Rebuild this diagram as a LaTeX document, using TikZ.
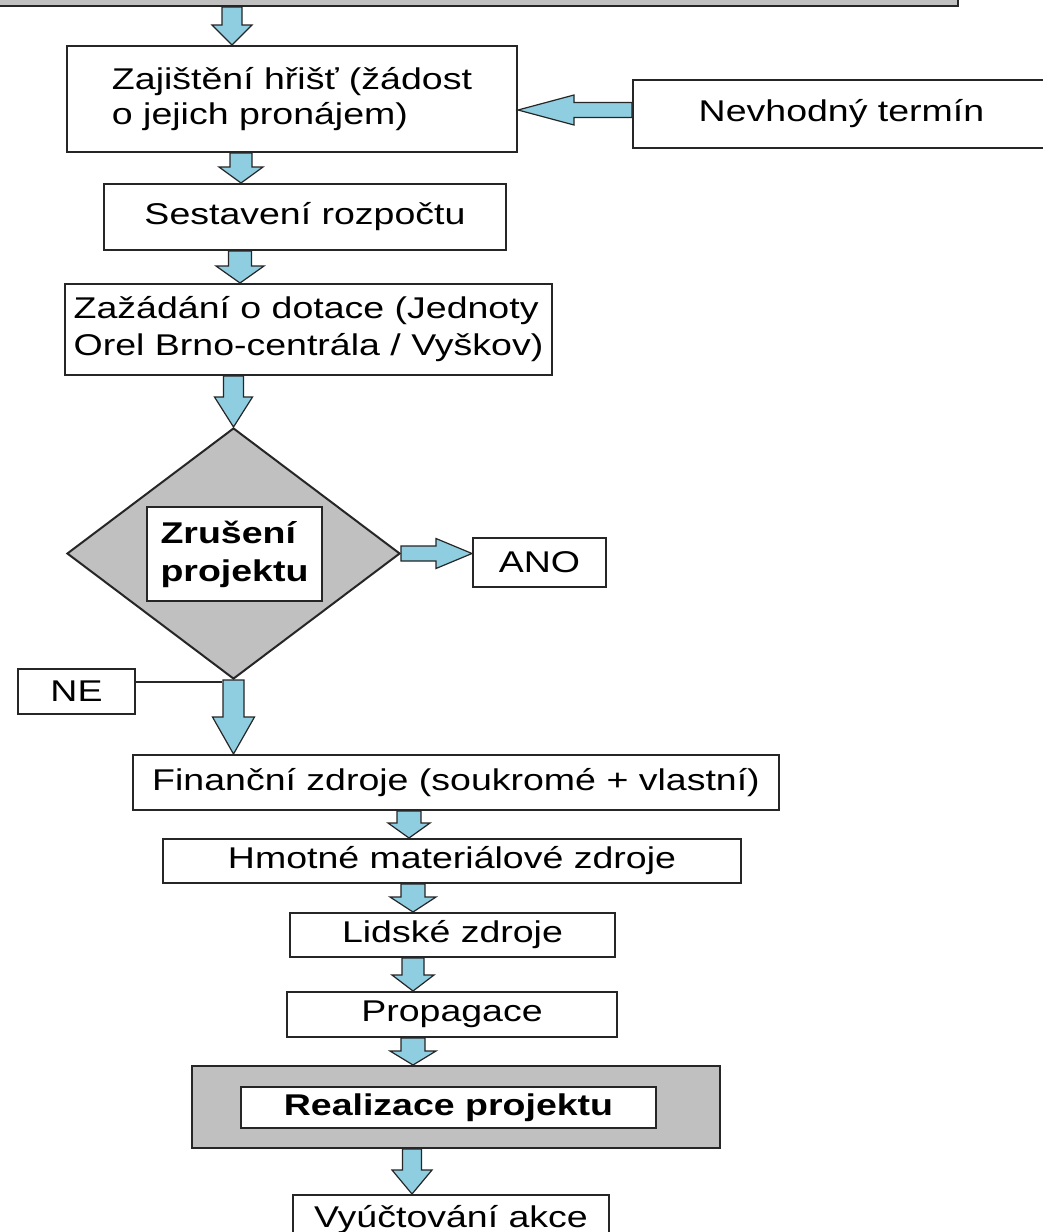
\documentclass[tikz,border=0pt]{standalone}
\usepackage{fontspec}
\setmainfont{Liberation Sans}[FakeStretch=1.25]
\usetikzlibrary{shapes.geometric,calc}
\definecolor{boxgray}{HTML}{C0C0C0}
\definecolor{arrowblue}{HTML}{8FCDE0}
\definecolor{edgecol}{HTML}{262626}
\tikzset{
  box/.style={draw=edgecol, line width=2pt, fill=white, inner sep=0pt, font=\fontsize{30}{36}\selectfont},
  graybox/.style={box, fill=boxgray},
  fatarrow/.style={draw=edgecol, line width=1.2pt, fill=arrowblue, line join=miter},
  thinline/.style={draw=edgecol, line width=1.5pt},
}
% #1 start, #2 end (tip), #3 half shaft, #4 half head, #5 head length
\newcommand\blockdown[5]{\draw[fatarrow] let \p1=(#1), \p2=(#2) in
  (\x1-#3,\y1) -- (\x1+#3,\y1) -- (\x1+#3,\y2+#5) -- (\x1+#4,\y2+#5) -- (\x1,\y2)
  -- (\x1-#4,\y2+#5) -- (\x1-#3,\y2+#5) -- cycle;}
\newcommand\blockleft[5]{\draw[fatarrow] let \p1=(#1), \p2=(#2) in
  (\x1,\y1-#3) -- (\x2+#5,\y1-#3) -- (\x2+#5,\y1-#4) -- (\x2,\y1) -- (\x2+#5,\y1+#4)
  -- (\x2+#5,\y1+#3) -- (\x1,\y1+#3) -- cycle;}
\newcommand\blockright[5]{\draw[fatarrow] let \p1=(#1), \p2=(#2) in
  (\x1,\y1-#3) -- (\x2-#5,\y1-#3) -- (\x2-#5,\y1-#4) -- (\x2,\y1) -- (\x2-#5,\y1+#4)
  -- (\x2-#5,\y1+#3) -- (\x1,\y1+#3) -- cycle;}
\begin{document}
\begin{tikzpicture}[x=1pt,y=-1pt]
\useasboundingbox (0,0) rectangle (1042,1232);
\fill[white] (0,0) rectangle (1042,1232);

% boxes
\node[graybox, minimum width=968pt, minimum height=56pt] (top) at (474,-22) {};
\node[box, minimum width=450pt, minimum height=106pt, align=left, font=\fontsize{30}{35}\selectfont] (b2) at (292,99)
  {Zajištění hřišť (žádost\\o jejich pronájem)};
\node[box, minimum width=417pt, minimum height=68pt] (nev) at (841.5,114) {Nevhodný termín};
\node[box, minimum width=402pt, minimum height=66pt] (b3) at (305,217) {Sestavení rozpočtu};
\node[box, minimum width=487pt, minimum height=91pt, align=left, font=\fontsize{30}{37}\selectfont] (b4) at (308.5,329.5)
  {Zažádání o dotace (Jednoty\\Orel Brno-centrála / Vyškov)};
\node[draw=edgecol, line width=2pt, fill=boxgray, diamond, minimum width=333pt, minimum height=251pt, inner sep=0pt] (dia) at (233.5,553.5) {};
\node[box, minimum width=175pt, minimum height=94pt, align=left, font=\bfseries\fontsize{30}{38}\selectfont] (zr) at (234.5,554)
  {Zrušení\\projektu};
\node[box, minimum width=133pt, minimum height=49pt] (ano) at (539.5,562.5) {ANO};
\node[box, minimum width=117pt, minimum height=45pt] (ne) at (76.5,691.5) {NE};
\node[box, minimum width=646pt, minimum height=55pt] (fin) at (456,782.5) {Finanční zdroje (soukromé + vlastní)};
\node[box, minimum width=578pt, minimum height=44pt] (hmo) at (452,861) {Hmotné materiálové zdroje};
\node[box, minimum width=325pt, minimum height=44pt] (lid) at (452.5,935) {Lidské zdroje};
\node[box, minimum width=330pt, minimum height=45pt] (pro) at (452,1014.5) {Propagace};
\node[graybox, minimum width=528pt, minimum height=82pt] (realg) at (456,1107) {};
\node[box, minimum width=415pt, minimum height=41pt, font=\bfseries\fontsize{30}{36}\selectfont] (reali) at (448.5,1107.5) {Realizace projektu};
\node[box, minimum width=316pt, minimum height=50pt] (vyu) at (451,1220) {Vyúčtování akce};

% arrow x / y positions
\coordinate (xa1) at (232,0);
\coordinate (xa2) at (241,0);
\coordinate (xa3) at (240,0);
\coordinate (xa6) at (409,0);
\coordinate (xa7) at (413,0);
\coordinate (xa8) at (413,0);
\coordinate (xa9) at (413,0);
\coordinate (xa10) at (412,0);
\coordinate (yl) at (0,110);
\coordinate (neend) at (222,682);

% connectors
\blockdown{top.south -| xa1}{b2.north -| xa1}{10pt}{20pt}{20pt}
\blockleft{nev.west |- yl}{b2.east |- yl}{7.5pt}{15pt}{56pt}
\blockdown{b2.south -| xa2}{b3.north -| xa2}{11pt}{22pt}{16pt}
\blockdown{b3.south -| xa3}{b4.north -| xa3}{11.5pt}{24pt}{17pt}
\blockdown{b4.south -| dia.north}{dia.north}{10pt}{19pt}{30pt}
\blockright{dia.east}{ano.west |- dia.east}{7.5pt}{15pt}{36pt}
\draw[thinline] (ne.east |- neend) -- (neend);
\blockdown{dia.south}{fin.north -| dia.south}{10.5pt}{21pt}{37pt}
\blockdown{fin.south -| xa6}{hmo.north -| xa6}{12pt}{21pt}{15pt}
\blockdown{hmo.south -| xa7}{lid.north -| xa7}{12pt}{23pt}{15pt}
\blockdown{lid.south -| xa8}{pro.north -| xa8}{11pt}{21pt}{16pt}
\blockdown{pro.south -| xa9}{realg.north -| xa9}{12pt}{23pt}{14pt}
\blockdown{realg.south -| xa10}{vyu.north -| xa10}{9.5pt}{20pt}{24pt}
\end{tikzpicture}
\end{document}
